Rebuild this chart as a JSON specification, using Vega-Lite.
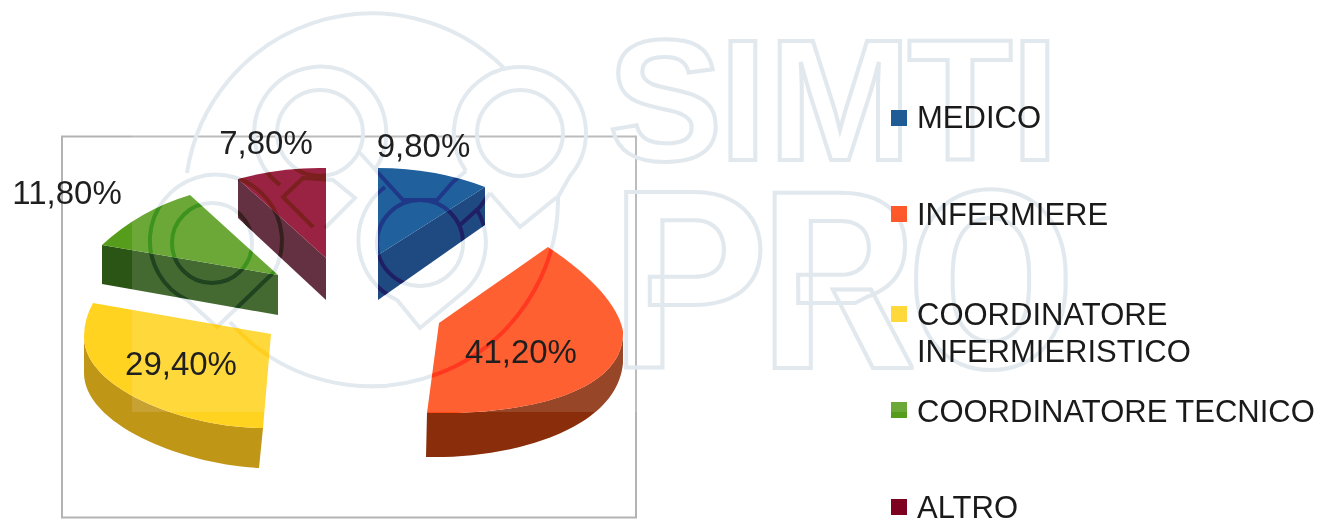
{
"$schema":"https://vega.github.io/schema/vega-lite/v6.json",
"width":1320,"height":519,"padding":0,"background":"white",
"autosize":{"type":"fit","contains":"padding"},
"config":{"view":{"stroke":null}},
"datasets":{
"slices":[
{"order":1,"category":"MEDICO","share":9.8,"label":"9,80%","legendLabel":"MEDICO"},
{"order":2,"category":"INFERMIERE","share":41.2,"label":"41,20%","legendLabel":"INFERMIERE"},
{"order":3,"category":"COORDINATORE INFERMIERISTICO","share":29.4,"label":"29,40%","legendLabel":"COORDINATORE\nINFERMIERISTICO"},
{"order":4,"category":"COORDINATORE TECNICO","share":11.8,"label":"11,80%","legendLabel":"COORDINATORE TECNICO"},
{"order":5,"category":"ALTRO","share":7.8,"label":"7,80%","legendLabel":"ALTRO"}
],
"backdrop":[{"part":"frame","idx":1},{"part":"logo","idx":2},{"part":"veil","idx":3}],
"simti":[{"idx":1,"letter":"S"},{"idx":2,"letter":"I"},{"idx":3,"letter":"M"},{"idx":4,"letter":"T"},{"idx":5,"letter":"I"}],
"pro":[{"idx":1,"letter":"P"},{"idx":2,"letter":"R"},{"idx":3,"letter":"O"}]
},
"layer":[
{"data":{"name":"backdrop"},"transform":[{"filter":"datum.part==='frame'"}],
 "mark":{"type":"point","filled":false,"size":4,"opacity":1,"stroke":"#b3b3b3","strokeWidth":2},
 "encoding":{
  "x":{"field":"idx","type":"quantitative","axis":null,"scale":{"domain":[1,2,3],"range":[62,372,132],"zero":false,"nice":false}},
  "y":{"field":"idx","type":"quantitative","axis":null,"scale":{"domain":[1,2,3],"range":[136.5,200,0],"zero":false,"nice":false}},
  "shape":{"field":"part","type":"nominal","legend":null,"scale":{"domain":["frame"],"range":["M0,0H574V381H0Z"]}}
 }},
{"data":{"name":"simti"},
 "mark":{"type":"text","font":"Liberation Sans","fontWeight":"bold","fontSize":172,"align":"center","baseline":"alphabetic","fill":"transparent","stroke":"#dfe6ec","strokeWidth":4},
 "encoding":{
  "x":{"field":"idx","type":"quantitative","axis":null,"scale":{"domain":[1,2,3,4,5],"range":[665,743,840,960,1035],"zero":false,"nice":false}},
  "y":{"field":"idx","type":"quantitative","axis":null,"scale":{"domain":[1,5],"range":[160,160],"zero":false,"nice":false}},
  "text":{"field":"letter"}
 }},
{"data":{"name":"pro"},
 "mark":{"type":"text","font":"Roboto","fontWeight":"bold","fontSize":247,"align":"center","baseline":"alphabetic","fill":"transparent","stroke":"#dfe6ec","strokeWidth":4},
 "encoding":{
  "x":{"field":"idx","type":"quantitative","axis":null,"scale":{"domain":[1,2,3],"range":[690,838,991],"zero":false,"nice":false}},
  "y":{"field":"idx","type":"quantitative","axis":null,"scale":{"domain":[1,3],"range":[368,368],"zero":false,"nice":false}},
  "text":{"field":"letter"}
 }},
{"data":{"name":"backdrop"},"transform":[{"filter":"datum.part==='logo'"}],
 "mark":{"type":"point","filled":false,"size":4,"opacity":1,"stroke":"#e6ebf0","strokeWidth":4},
 "encoding":{
  "x":{"field":"idx","type":"quantitative","axis":null,"scale":{"domain":[1,2,3],"range":[62,372,132],"zero":false,"nice":false}},
  "y":{"field":"idx","type":"quantitative","axis":null,"scale":{"domain":[1,2,3],"range":[136.5,200,0],"zero":false,"nice":false}},
  "shape":{"field":"part","type":"nominal","legend":null,"scale":{"domain":["logo"],"range":["M-185,-27A187,187 0 0 1 132,-132M186,-3A187,187 0 0 1 -142,122M-92,-15A66,66 0 1 1 2,-29M-95,-67A43,43 0 1 1 -9,-67A43,43 0 1 1 -95,-67M94,-29A66,66 0 1 1 198,-24L186,-3M105,-67A43,43 0 1 1 191,-67A43,43 0 1 1 105,-67M13,-13A66,66 0 0 0 25,100L48,128L88,95A66,66 0 0 0 104,8M5,43A43,43 0 1 1 91,43A43,43 0 1 1 5,43M-185,100A66,66 0 1 1 -98,72L-155,127ZM-200,43A40,40 0 1 1 -120,43A40,40 0 1 1 -200,43M-59,27L-89,-3L-69,-22L-39,-20L-17,-2L-47,28M-12,-47L31,0L65,0L81,-18L94,-29M118,-7L148,27L185,-3M88,25L108,7L118,-7"]}}
 }},
{"data":{"name":"slices"},
 "mark":{"type":"point","filled":true,"size":4,"opacity":1,"strokeWidth":0},
 "encoding":{
  "x":{"field":"order","type":"quantitative","axis":null,"scale":{"domain":[1,2,3,4,5],"range":[378,439,271,278,326],"zero":false,"nice":false}},
  "y":{"field":"order","type":"quantitative","axis":null,"scale":{"domain":[1,2,3,4,5],"range":[255,323,334,275,258],"zero":false,"nice":false}},
  "shape":{"field":"category","type":"nominal","legend":null,"scale":{"domain":["MEDICO","INFERMIERE","COORDINATORE INFERMIERISTICO","COORDINATORE TECNICO","ALTRO"],"range":[
   "M107,-68L107,-30L0,45L0,0Z",
   "M184,8L184,40C178,108 70,136 -13,134L-12,90C100,92 186,65 184,8Z",
   "M-187,3L-187,39C-187,90 -90,130 -12,134L-8,94C-85,94 -187,55 -187,3Z",
   "M-176,-30L-176,9L0,40L0,0Z",
   "M-88,-79L-88,-40L0,42L0,0Z"]}},
  "color":{"field":"category","type":"nominal","legend":null,"scale":{"domain":["MEDICO","INFERMIERE","COORDINATORE INFERMIERISTICO","COORDINATORE TECNICO","ALTRO"],"range":["#003270","#8a2d0b","#c09616","#2b5515","#4f1528"]}}
 }},
{"data":{"name":"slices"},
 "mark":{"type":"point","filled":true,"size":4,"opacity":1,"strokeWidth":0},
 "encoding":{
  "x":{"field":"order","type":"quantitative","axis":null,"scale":{"domain":[1,2,3,4,5],"range":[378,439,271,278,326],"zero":false,"nice":false}},
  "y":{"field":"order","type":"quantitative","axis":null,"scale":{"domain":[1,2,3,4,5],"range":[255,323,334,275,258],"zero":false,"nice":false}},
  "shape":{"field":"category","type":"nominal","legend":null,"scale":{"domain":["MEDICO","INFERMIERE","COORDINATORE INFERMIERISTICO","COORDINATORE TECNICO","ALTRO"],"range":[
   "M0,-87Q57,-87 107,-68L0,0Z",
   "M109,-76C145,-52 178,-22 184,8C186,65 100,92 -12,90L0,0Z",
   "M-178,-31Q-187,-15 -187,3C-187,55 -85,94 -8,94L0,0Z",
   "M-88,-80Q-138,-65 -176,-30L0,0Z",
   "M-88,-79Q-44,-91 0,-90L0,0Z"]}},
  "color":{"field":"category","type":"nominal","legend":null,"scale":{"domain":["MEDICO","INFERMIERE","COORDINATORE INFERMIERISTICO","COORDINATORE TECNICO","ALTRO"],"range":["#004a90","#ff4a16","#ffd320","#579d1c","#8c0428"]}}
 }},
{"data":{"name":"backdrop"},"transform":[{"filter":"datum.part==='logo'"}],
 "mark":{"type":"point","filled":false,"size":4,"opacity":1,"stroke":"#c4ccd2","strokeWidth":4,"blend":"color-burn"},
 "encoding":{
  "x":{"field":"idx","type":"quantitative","axis":null,"scale":{"domain":[1,2,3],"range":[62,372,132],"zero":false,"nice":false}},
  "y":{"field":"idx","type":"quantitative","axis":null,"scale":{"domain":[1,2,3],"range":[136.5,200,0],"zero":false,"nice":false}},
  "shape":{"field":"part","type":"nominal","legend":null,"scale":{"domain":["logo"],"range":["M-185,-27A187,187 0 0 1 132,-132M186,-3A187,187 0 0 1 -142,122M-92,-15A66,66 0 1 1 2,-29M-95,-67A43,43 0 1 1 -9,-67A43,43 0 1 1 -95,-67M94,-29A66,66 0 1 1 198,-24L186,-3M105,-67A43,43 0 1 1 191,-67A43,43 0 1 1 105,-67M13,-13A66,66 0 0 0 25,100L48,128L88,95A66,66 0 0 0 104,8M5,43A43,43 0 1 1 91,43A43,43 0 1 1 5,43M-185,100A66,66 0 1 1 -98,72L-155,127ZM-200,43A40,40 0 1 1 -120,43A40,40 0 1 1 -200,43M-59,27L-89,-3L-69,-22L-39,-20L-17,-2L-47,28M-12,-47L31,0L65,0L81,-18L94,-29M118,-7L148,27L185,-3M88,25L108,7L118,-7"]}}
 }},
{"data":{"name":"slices"},
 "mark":{"type":"point","filled":true,"size":256,"opacity":1,"strokeWidth":0,"shape":"square"},
 "encoding":{
  "x":{"field":"order","type":"quantitative","axis":null,"scale":{"domain":[1,5],"range":[899,899],"zero":false,"nice":false}},
  "y":{"field":"order","type":"quantitative","axis":null,"scale":{"domain":[1,2,3,4,5],"range":[118,214,314,410,507],"zero":false,"nice":false}},
  "color":{"field":"category","type":"nominal","legend":null,"scale":{"domain":["MEDICO","INFERMIERE","COORDINATORE INFERMIERISTICO","COORDINATORE TECNICO","ALTRO"],"range":["#004586","#ff420e","#ffd320","#579d1c","#7e0021"]}}
 }},
{"data":{"name":"backdrop"},"transform":[{"filter":"datum.part==='veil'"}],
 "mark":{"type":"point","filled":true,"size":4,"opacity":0.12,"strokeWidth":0,"color":"white"},
 "encoding":{
  "x":{"field":"idx","type":"quantitative","axis":null,"scale":{"domain":[1,2,3],"range":[62,372,132],"zero":false,"nice":false}},
  "y":{"field":"idx","type":"quantitative","axis":null,"scale":{"domain":[1,2,3],"range":[136.5,200,0],"zero":false,"nice":false}},
  "shape":{"field":"part","type":"nominal","legend":null,"scale":{"domain":["veil"],"range":["M0,0H968V412H0Z"]}}
 }},
{"data":{"name":"slices"},
 "mark":{"type":"text","font":"Liberation Sans","fontSize":33,"align":"center","baseline":"alphabetic","color":"#1f1f1f"},
 "encoding":{
  "x":{"field":"order","type":"quantitative","axis":null,"scale":{"domain":[1,2,3,4,5],"range":[423.5,521,181,67,266],"zero":false,"nice":false}},
  "y":{"field":"order","type":"quantitative","axis":null,"scale":{"domain":[1,2,3,4,5],"range":[157,363,375,204,154],"zero":false,"nice":false}},
  "text":{"field":"label"}
 }},
{"data":{"name":"slices"},
 "mark":{"type":"text","font":"Liberation Sans","fontSize":31,"align":"left","baseline":"alphabetic","color":"#1a1a1a","lineBreak":"\n","lineHeight":36.7},
 "encoding":{
  "x":{"field":"order","type":"quantitative","axis":null,"scale":{"domain":[1,5],"range":[917,917],"zero":false,"nice":false}},
  "y":{"field":"order","type":"quantitative","axis":null,"scale":{"domain":[1,2,3,4,5],"range":[128,225,325,421.7,518],"zero":false,"nice":false}},
  "text":{"field":"legendLabel"}
 }}
],
"resolve":{"scale":{"x":"independent","y":"independent","shape":"independent","color":"independent"}}
}
